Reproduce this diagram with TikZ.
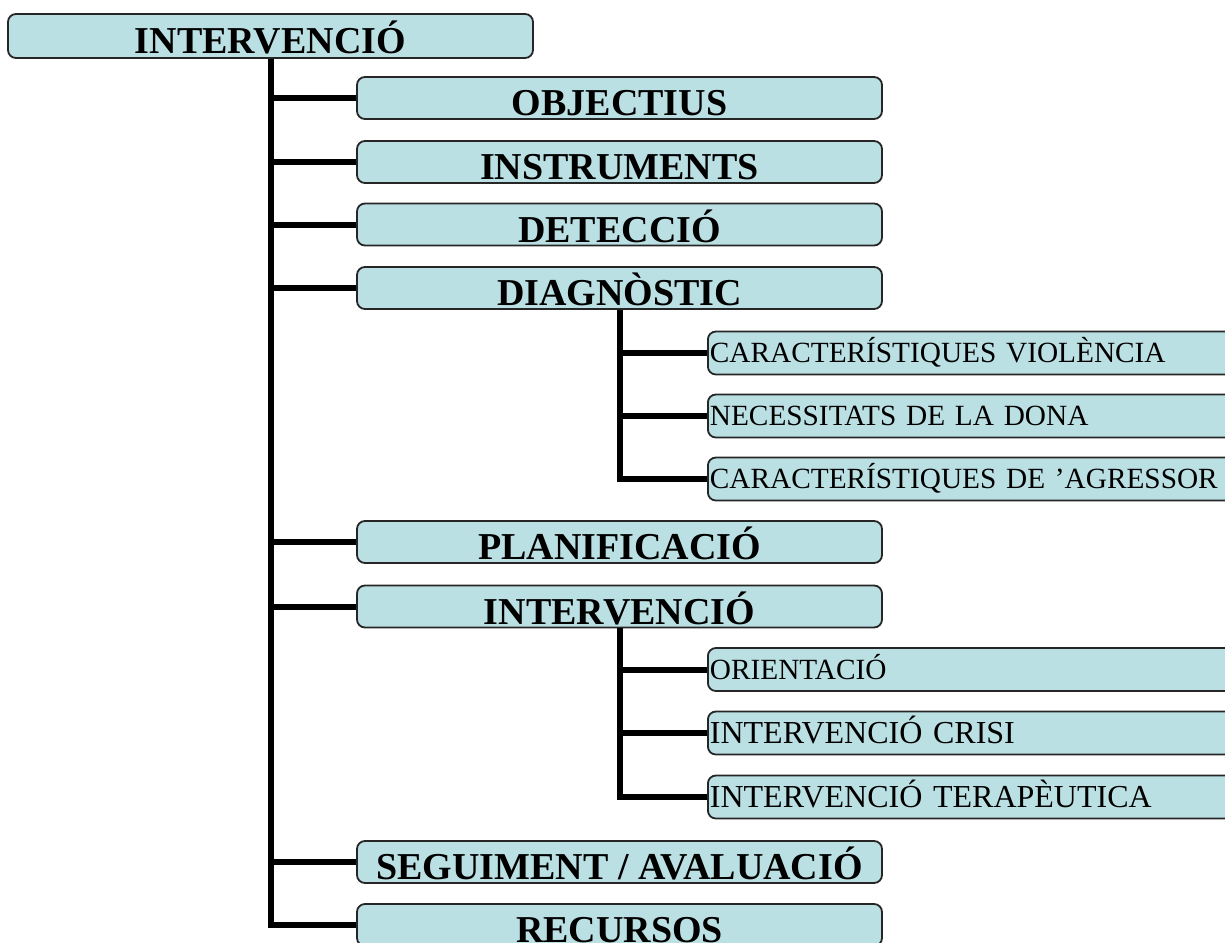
\documentclass[tikz,border=0pt]{standalone}
\usepackage{fontspec}
\setmainfont{Liberation Serif}
\usepackage{xcolor}
\usepackage{tikz}
\usetikzlibrary{positioning}
\definecolor{boxcyan}{RGB}{187,224,227}
\tikzset{
  box/.style={draw=black!85, line width=1.8pt, fill=boxcyan, rounded corners=8pt},
  mainbox/.style={box, minimum width=525pt, inner xsep=0pt, inner ysep=0pt, text height=38.5pt, text depth=3.5pt, font=\fontsize{38}{40}\selectfont\bfseries},
  subbox/.style={box, anchor=west, minimum height=43pt, text width=540pt, align=left, inner xsep=2pt, inner ysep=0pt, text height=19pt, text depth=0pt, font=\fontsize{29.3}{31}\selectfont},
  bigsub/.style={subbox, text height=21pt, font=\fontsize{32}{34}\selectfont},
  link/.style={line width=6pt}
}
\begin{document}
\begin{tikzpicture}[x=1pt, y=-1pt]
  \useasboundingbox[fill=white] (0,0) rectangle (1225,942);
  % arrel
  \node[mainbox, text height=40pt, text depth=4pt] (top) at (270.5,36) {INTERVENCIÓ};
  % fases
  \node[mainbox] (obj) at (619.5,98) {OBJECTIUS};
  \node[mainbox] (ins) at (619.5,162) {INSTRUMENTS};
  \node[mainbox] (det) at (619.5,224.5) {DETECCIÓ};
  \node[mainbox] (diag) at (619.5,288) {DIAGNÒSTIC};
  \node[mainbox] (plan) at (619.5,542) {PLANIFICACIÓ};
  \node[mainbox] (interv) at (619.5,606.5) {INTERVENCIÓ};
  \node[mainbox] (seg) at (619.5,862) {SEGUIMENT / AVALUACIÓ};
  \node[mainbox] (rec) at (619.5,925) {RECURSOS};
  % diagnostic
  \node[subbox] (viol) at (707,353) {CARACTERÍSTIQUES VIOLÈNCIA};
  \node[subbox] (dona) at (707,416) {NECESSITATS DE LA DONA};
  \node[subbox] (agr) at (707,479) {CARACTERÍSTIQUES DE ’AGRESSOR};
  % intervencio
  \node[subbox] (orient) at (707,669.5) {ORIENTACIÓ};
  \node[bigsub] (crisi) at (707,733) {INTERVENCIÓ CRISI};
  \node[bigsub] (terap) at (707,797) {INTERVENCIÓ TERAPÈUTICA};

  \foreach \n in {obj,ins,det,diag,plan,interv,seg,rec}
    \draw[link] (top.south) |- (\n.west);
  \foreach \n in {viol,dona,agr}
    \draw[link] (diag.south) |- (\n.west);
  \foreach \n in {orient,crisi,terap}
    \draw[link] (interv.south) |- (\n.west);
\end{tikzpicture}
\end{document}
